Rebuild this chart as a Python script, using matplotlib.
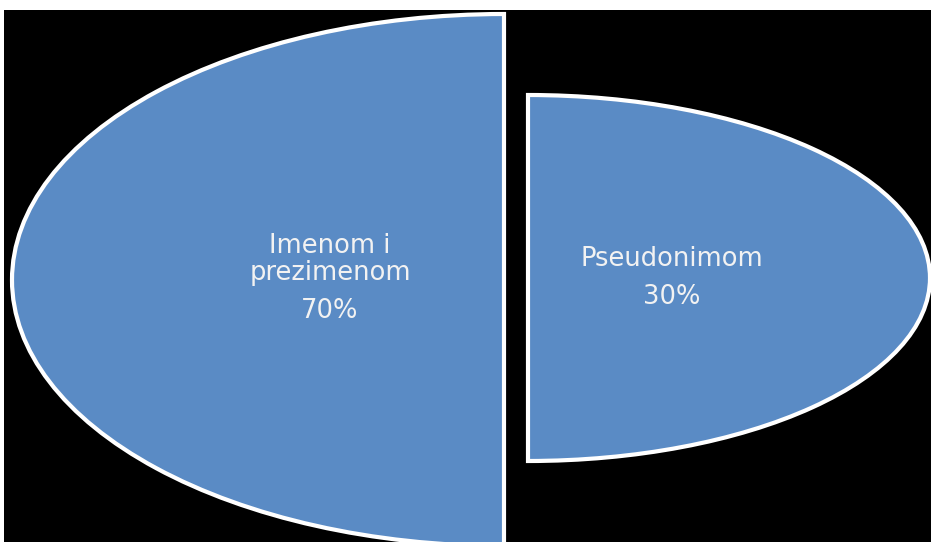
import matplotlib
matplotlib.use('Agg')
import matplotlib.pyplot as plt

labels = ['Imenom i\nprezimenom', 'Pseudonimom']
values = [70, 30]

W, H = 931, 542
blue = '#5a8bc5'

fig = plt.figure(figsize=(W / 100, H / 100), dpi=100)
fig.patch.set_facecolor('white')

# black plot area (px from top-left)
bg = fig.add_axes([4 / W, 0, 1 - 4 / W, (H - 10) / H])
bg.set_facecolor('black')
bg.set_xticks([])
bg.set_yticks([])
for s in bg.spines.values():
    s.set_visible(False)


def px_axes(cx, cy, rx, ry):
    # axes box for an ellipse centred at (cx, cy) px from top-left
    return fig.add_axes([(cx - rx) / W, (H - cy - ry) / H, 2 * rx / W, 2 * ry / H])


# each slice is drawn as a half ellipse, like in the reference
pieces = [
    dict(box=(504, 280, 492, 266), start=90, text=(330, 259), pct=(330, 311)),
    dict(box=(528, 278, 402, 183), start=-90, text=(672, 259), pct=(672, 297)),
]

for lab, val, p in zip(labels, values, pieces):
    ax = px_axes(*p['box'])
    ax.pie([0.5], normalize=False, startangle=p['start'], colors=[blue],
           wedgeprops=dict(edgecolor='white', linewidth=3))
    ax.set_aspect('auto')
    ax.set_xlim(-1.0, 1.0)
    ax.set_ylim(-1.0, 1.0)
    ax.axis('off')
    ax.patch.set_alpha(0)

    tx, ty = p['text']
    fig.text(tx / W, 1 - ty / H, lab, color='#f2f2f2', fontsize=18.5,
             ha='center', va='center', linespacing=1.05)
    qx, qy = p['pct']
    fig.text(qx / W, 1 - qy / H, f'{val}%', color='#f2f2f2', fontsize=18.5,
             ha='center', va='center')

fig.savefig('out.png', dpi=100)
